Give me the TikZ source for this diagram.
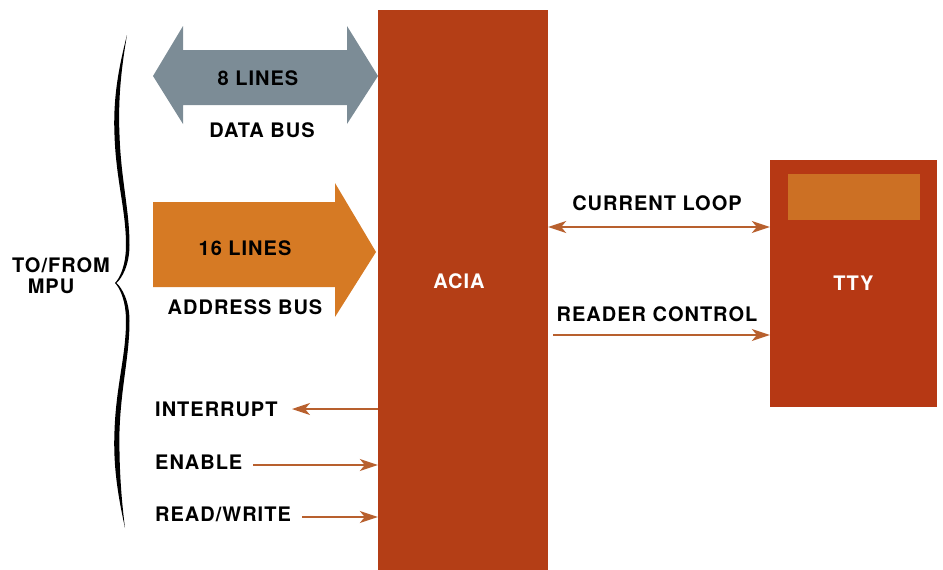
\documentclass[tikz,border=0pt]{standalone}
\usepackage{fontspec}
\newfontfamily\labelfont{TeX Gyre Heros}[LetterSpace=5]
\usetikzlibrary{arrows.meta,positioning}
\definecolor{aciared}{RGB}{180,62,22}
\definecolor{ttyred}{RGB}{182,56,20}
\definecolor{screenorange}{RGB}{204,112,36}
\definecolor{busgray}{RGB}{124,140,150}
\definecolor{busorange}{RGB}{214,122,36}
\definecolor{wirecol}{RGB}{184,96,46}
\begin{document}
\begin{tikzpicture}[x = 1pt, y = -1pt,
  every node/.style = {font=\labelfont\bfseries\fontsize{20}{22}\selectfont, inner sep=0pt},
  block/.style = {fill=aciared, text=white},
  >={Stealth[length=18pt,width=12pt,inset=5pt]},
  wire/.style = {draw=wirecol, line width=1.4pt, ->}]
\useasboundingbox (0,0) rectangle (943,570);
% ACIA and terminal
\node[block, minimum width=170pt, minimum height=560pt] (acia) at (463,290) {};
\node[text=white] (aciaLabel) at (459,281) {ACIA};
\node[block, fill=ttyred, minimum width=167pt, minimum height=247pt] (tty) at (853.5,283.5) {TTY};
\node[fill=screenorange, minimum width=132pt, minimum height=46pt] (screen) at (854,196.5) {};
% Buses
\fill[busgray] (153,76) -- (183,26) -- (183,50) -- (347,50) -- (347,26) -- (378,76)
  -- (347,124) -- (347,105) -- (183,105) -- (183,124) -- cycle;
\node (dataLines) at (258,78) {8 LINES};
\node (dataBus) at (262,130) {DATA BUS};
\fill[busorange] (153,202) -- (335,202) -- (335,183) -- (376,252) -- (335,317)
  -- (335,287) -- (153,287) -- cycle;
\node (addrLines) at (245,248) {16 LINES};
\node (addrBus) at (245,307) {ADDRESS BUS};
% Brace
\fill (127,35) .. controls (118,70) and (113,100) .. (114.5,135)
  .. controls (116,180) and (126,210) .. (126,245)
  .. controls (126,265) and (120,278) .. (115,283)
  .. controls (120,288) and (126,301) .. (126,321)
  .. controls (126,356) and (116,386) .. (114.5,431)
  .. controls (113,466) and (118,496) .. (125,528)
  .. controls (121,496) and (119,466) .. (119.5,431)
  .. controls (121,386) and (129.5,356) .. (129.5,321)
  .. controls (129.5,301) and (122,288) .. (116.5,283)
  .. controls (122,278) and (129.5,265) .. (129.5,245)
  .. controls (129.5,210) and (121,180) .. (119.5,135)
  .. controls (118,100) and (121,70) .. (127,35) -- cycle;
\node (toFrom) at (61,265) {TO/FROM};
\node (mpu) at (51,286) {MPU};
% Control lines
\node[anchor=west] (intr) at (155,409) {INTERRUPT};
\node[anchor=west] (enable) at (155,462) {ENABLE};
\node[anchor=west] (rw) at (155,514) {READ/WRITE};
\coordinate (intrOut) at (292,409);
\coordinate (enableIn) at (253,465);
\coordinate (rwIn) at (302,517);
\draw[wire] (acia.west |- intrOut) -- (intrOut);
\draw[wire] (enableIn) -- (acia.west |- enableIn);
\draw[wire] (rwIn) -- (acia.west |- rwIn);
% Serial side
\node (loopLabel) at (657,203) {CURRENT LOOP};
\node (readerLabel) at (657,314) {READER CONTROL};
\coordinate (loopLevel) at (657,227);
\coordinate (readerLevel) at (657,335);
\draw[wire, <->] (acia.east |- loopLevel) -- (tty.west |- loopLevel);
\draw[wire, shorten <=5pt] (acia.east |- readerLevel) -- (tty.west |- readerLevel);
\end{tikzpicture}
\end{document}
